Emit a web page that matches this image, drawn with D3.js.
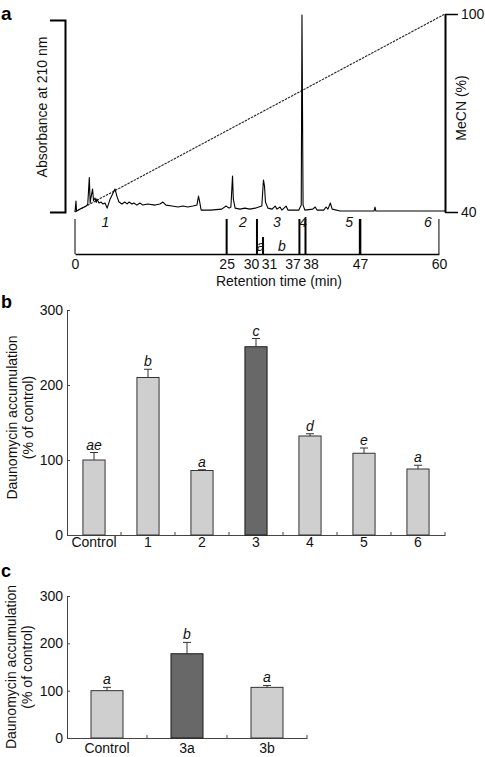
<!DOCTYPE html>
<html><head><meta charset="utf-8">
<script src="https://cdn.jsdelivr.net/npm/d3@7"></script>
<style>body{margin:0;background:#fff} svg{display:block;font-family:"Liberation Sans",Arial,Helvetica,sans-serif}</style>
</head><body><svg id="c" width="485" height="757"></svg>
<script>
// ---------- Panel a data ----------
const chromTime = [0,0.16,0.25,0.8,1.8,2.1,2.36,2.5,2.6,2.9,3.05,3.3,3.5,3.6,3.95,4.3,4.6,4.95,5.3,5.8,6.3,6.6,6.9,7.25,7.75,8.2,8.6,8.9,9.4,9.7,10.2,10.7,11.2,12.0,13.2,14.0,14.5,15.0,16.0,17.0,17.8,18.6,19.45,20.1,20.36,20.5,20.8,22.3,24.2,24.9,25.4,25.7,25.97,26.1,26.4,27.2,28.0,28.85,29.7,30.3,30.8,31.07,31.24,31.4,31.8,32.5,33.0,33.3,33.8,34.1,34.8,35.1,36.9,37.3,37.42,37.6,37.9,39.2,39.6,39.9,41.0,41.4,41.7,42.1,42.4,43.7,49.3,49.46,49.6,61];
const chromAbs  = [0,5.7,0.5,1.5,3,4,18,4.7,7,12,6,7.3,5,6.8,4.7,5.2,4.2,4.7,2,6.8,10,12,8.3,5.2,4.2,5.2,4.2,5.2,4.2,4.7,3.6,4.7,3.6,4.2,3.6,4.2,5.2,3.6,3.1,2.6,3.1,2.6,3.1,3.6,8.3,6.2,1,1,1.5,3.1,2,2.6,18.7,6.8,2,1.5,2,1.5,2,2.6,3.1,16.7,13.5,5.2,2,1.5,3.1,1.5,2.6,1,3.1,1,1,3.6,102.6,3.6,1,1.5,2.6,1,1,2.6,1.5,4.7,1.5,0.5,0.5,2.6,0.5,0.5];
const gradientTime = [0, 61];
const gradientMeCN = [40, 100];
const mecnTicks = [40, 100];
const fractionBounds = [0, 25, 30, 31, 37, 38, 47, 60];
const fractionNames = ["1", "2", "3", "4", "5", "6"];
const fractionLabelTime = [5, 27.7, 33.3, 37.6, 45.2, 58.2];
const subFractionNames = ["a", "b"];
const subFractionTime = [30.6, 34.1];

// ---------- Panel b data ----------
const catsB = ["Control", "1", "2", "3", "4", "5", "6"];
const valsB = [100, 210, 86, 251, 132, 109, 88];
const errsB = [10, 11, 1, 11, 3, 7, 5];
const lettersB = ["ae", "b", "a", "c", "d", "e", "a"];
const darkB = ["3"];

// ---------- Panel c data ----------
const catsC = ["Control", "3a", "3b"];
const valsC = [100, 178, 107];
const errsC = [7, 24, 4];
const lettersC = ["a", "b", "a"];
const darkC = ["3a"];

const yTicks = [0, 100, 200, 300];

const svg = d3.select("#c");
const FS = 14;

// ================= Panel a =================
const xT = d3.scaleLinear().domain([0, 61]).range([75, 445]);
const yAbs = d3.scaleLinear().domain([0, 100]).range([212, 20]);
const yMeCN = d3.scaleLinear().domain([40, 100]).range([212, 14]);

// left absorbance bracket axis
const gl = svg.append("g").attr("transform", "translate(65,0)")
  .call(d3.axisLeft(yAbs).tickValues([]).tickSizeOuter(15));
gl.select(".domain").attr("stroke", "#000").attr("stroke-width", 2);

// right MeCN axis
const gr = svg.append("g").attr("transform", `translate(${xT(61)},0)`)
  .call(d3.axisRight(yMeCN).tickValues(mecnTicks).tickSize(13).tickSizeOuter(0).tickPadding(3));
gr.select(".domain").attr("stroke", "#000").attr("stroke-width", 2);
gr.selectAll(".tick line").attr("stroke", "#000").attr("stroke-width", 1.5);
gr.selectAll("text").attr("font-size", FS).attr("font-family", "Liberation Sans, Arial, sans-serif").attr("fill", "#111");

// gradient dotted line
svg.append("path")
  .datum(gradientTime.map((t, i) => [t, gradientMeCN[i]]))
  .attr("d", d3.line().x(d => xT(d[0])).y(d => yMeCN(d[1])))
  .attr("fill", "none").attr("stroke", "#222").attr("stroke-width", 1.1)
  .attr("stroke-dasharray", "2.5,1");

// chromatogram trace
svg.append("path")
  .datum(chromTime.map((t, i) => [t, chromAbs[i]]))
  .attr("d", d3.line().x(d => xT(d[0])).y(d => yAbs(d[1])))
  .attr("fill", "none").attr("stroke", "#000").attr("stroke-width", 1.1).attr("stroke-linejoin", "round");

// axis titles
svg.append("text").attr("transform", "translate(47,107) rotate(-90)")
  .attr("text-anchor", "middle").attr("font-size", FS).attr("fill", "#111").text("Absorbance at 210 nm");
svg.append("text").attr("transform", "translate(466,108) rotate(-90)")
  .attr("text-anchor", "middle").attr("font-size", FS).attr("fill", "#111").text("MeCN (%)");

// fraction box
const xF = d3.scaleLinear().domain([0, 60]).range([xT(0), xT(60)]);
const boxTop = 219, boxBot = 254, subTop = 237;
const nudge = {30: -6, 31: 6, 37: -7, 38: 5};
const gf = svg.append("g").attr("transform", `translate(0,${boxBot})`)
  .call(d3.axisBottom(xF).tickValues(fractionBounds).tickSize(0).tickSizeOuter(0).tickPadding(5).tickFormat(d3.format("d")));
gf.select(".domain").attr("stroke", "#000").attr("stroke-width", 1.5);
gf.selectAll("text").attr("font-size", FS).attr("fill", "#111")
  .attr("font-family", "Liberation Sans, Arial, sans-serif")
  .attr("dx", d => nudge[d] || 0);

svg.append("g").selectAll("line").data(fractionBounds).join("line")
  .attr("x1", d => xF(d)).attr("x2", d => xF(d))
  .attr("y1", d => d === 31 ? subTop : boxTop).attr("y2", boxBot)
  .attr("stroke", "#000")
  .attr("stroke-width", d => (d === 0 || d === 60) ? 1 : (d === 47 ? 2.5 : 2));

svg.append("g").selectAll("text").data(fractionNames).join("text")
  .attr("x", (d, i) => xF(fractionLabelTime[i])).attr("y", 227)
  .attr("text-anchor", "middle").attr("font-size", FS).attr("font-style", "italic").attr("fill", "#111")
  .text(d => d);
svg.append("g").selectAll("text").data(subFractionNames).join("text")
  .attr("x", (d, i) => xF(subFractionTime[i])).attr("y", 251)
  .attr("text-anchor", "middle").attr("font-size", FS).attr("font-style", "italic").attr("fill", "#111")
  .text(d => d);

svg.append("text").attr("x", 279).attr("y", 286).attr("text-anchor", "middle")
  .attr("font-size", FS).attr("fill", "#111").text("Retention time (min)");

// panel letters
svg.append("text").attr("x", 1).attr("y", 20).attr("font-size", 19).attr("font-weight", "bold").text("a");
svg.append("text").attr("x", 1).attr("y", 308).attr("font-size", 18).attr("font-weight", "bold").text("b");
svg.append("text").attr("x", 1).attr("y", 577).attr("font-size", 18).attr("font-weight", "bold").text("c");

// ================= Bar panels =================
function barPanel(cats, vals, errs, letters, dark, box) {
  const x = d3.scaleBand().domain(cats).range([box.left, box.right]).padding(0);
  const y = d3.scaleLinear().domain([0, 300]).range([box.bottom, box.top]);
  const g = svg.append("g");
  const bw = x.bandwidth() * box.frac;

  // y axis
  const ya = g.append("g").attr("transform", `translate(${box.left},0)`)
    .call(d3.axisLeft(y).tickValues(yTicks).tickSize(-3).tickSizeOuter(0).tickPadding(4));
  ya.select(".domain").attr("stroke", "#444");
  ya.selectAll(".tick line").attr("stroke", "#444");
  ya.selectAll("text").attr("font-size", FS).attr("fill", "#111").attr("font-family", "Liberation Sans, Arial, sans-serif");

  // x axis labels
  const xa = g.append("g").attr("transform", `translate(0,${box.bottom})`)
    .call(d3.axisBottom(x).tickSize(0).tickSizeOuter(0).tickPadding(box.xpad));
  xa.select(".domain").attr("stroke", "#444");
  xa.selectAll("text").attr("font-size", FS).attr("fill", "#111").attr("font-family", "Liberation Sans, Arial, sans-serif");
  // boundary ticks (inward)
  g.append("g").selectAll("line").data(cats).join("line")
    .attr("x1", d => x(d) + x.step()).attr("x2", d => x(d) + x.step())
    .attr("y1", box.bottom).attr("y2", box.bottom - 3).attr("stroke", "#444");

  // bars
  g.append("g").selectAll("rect").data(cats).join("rect")
    .attr("x", d => x(d) + (x.bandwidth() - bw) / 2)
    .attr("width", bw)
    .attr("y", (d, i) => y(vals[i]))
    .attr("height", (d, i) => y(0) - y(vals[i]))
    .attr("fill", d => dark.includes(d) ? "#686868" : "#cfcfcf")
    .attr("stroke", d => dark.includes(d) ? "#1a1a1a" : "#333")
    .attr("stroke-width", 1);

  // error bars
  const cx = d => x(d) + x.bandwidth() / 2;
  g.append("g").selectAll("line").data(cats).join("line")
    .attr("x1", cx).attr("x2", cx)
    .attr("y1", (d, i) => y(vals[i])).attr("y2", (d, i) => y(vals[i] + errs[i]))
    .attr("stroke", "#333");
  g.append("g").selectAll("line").data(cats).join("line")
    .attr("x1", d => cx(d) - 4).attr("x2", d => cx(d) + 4)
    .attr("y1", (d, i) => y(vals[i] + errs[i])).attr("y2", (d, i) => y(vals[i] + errs[i]))
    .attr("stroke", "#333");

  // letters
  g.append("g").selectAll("text").data(cats).join("text")
    .attr("x", cx).attr("y", (d, i) => y(vals[i] + errs[i]) - 3)
    .attr("text-anchor", "middle").attr("font-size", FS).attr("font-style", "italic").attr("fill", "#111")
    .text((d, i) => letters[i]);

  // y title
  const my = (box.top + box.bottom) / 2 + box.tshift;
  g.append("text").attr("transform", `translate(${box.t1},${my}) rotate(-90)`)
    .attr("text-anchor", "middle").attr("font-size", FS).attr("fill", "#111").text("Daunomycin accumulation");
  g.append("text").attr("transform", `translate(${box.t2},${my}) rotate(-90)`)
    .attr("text-anchor", "middle").attr("font-size", FS).attr("fill", "#111").text("(% of control)");
}

barPanel(catsB, valsB, errsB, lettersB, darkB,
  {left: 67, right: 445, top: 310, bottom: 535, frac: 0.41, xpad: 2, t1: 17, t2: 33, tshift: -5});
barPanel(catsC, valsC, errsC, lettersC, darkC,
  {left: 67, right: 307, top: 596, bottom: 738, frac: 0.4, xpad: 5, t1: 16, t2: 32, tshift: 0});
</script></body></html>
